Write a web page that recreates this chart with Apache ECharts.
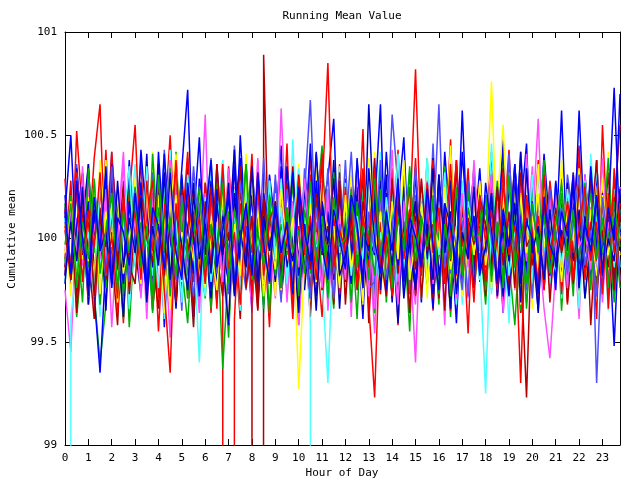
<!DOCTYPE html>
<html>
<head>
<meta charset="utf-8">
<title>Running Mean Value</title>
<script src="https://cdn.jsdelivr.net/npm/echarts@6/dist/echarts.min.js"></script>
<style>
  html, body { margin: 0; padding: 0; background: #fff; }
  #chart { width: 640px; height: 480px; }
</style>
</head>
<body>
<div id="chart"></div>
<script>
// samples every 15 minutes, 0:00 .. 23:45
const hours = [];
for (let i = 0; i < 96; i++) hours.push(i / 4);

const yMin = 99, yMax = 101, yStep = 0.5;
const xMax = 23.75;

// one array per run, 8 rows of 12 = 96 samples (3 hours per row)
const run00 = [
  100.29, 99.78, 100.52, 100.11, 99.68, 100.21, 99.9, 100.43, 99.83, 100.03, 99.59, 100.27,
  99.94, 100.38, 99.75, 100.15, 99.55, 100.07, 100.5, 99.87, 100.2, 99.71, 100.32, 99.82,
  100.13, 99.64, 100.25, 99.76, 0, 99.61, 100.17, 99.93, 100.41, 99.73, 100.08, 99.57,
  100.24, 99.89, 100.46, 99.69, 100.06, 99.8, 100.31, 99.96, 99.62, 100.21, 99.85, 100.36,
  99.73, 100.1, 99.92, 100.53, 99.66, 100.18, 99.79, 100.01, 100.34, 99.58, 100.14, 99.86,
  100.39, 99.76, 100.07, 99.65, 100.27, 99.97, 100.48, 99.72, 100.11, 99.54, 100.22, 99.9,
  100.04, 100.42, 99.71, 100.15, 99.83, 100.29, 99.64, 100.08, 99.93, 100.38, 99.75, 100.2,
  99.87, 100.25, 99.68, 100.13, 100.45, 99.8, 100.06, 99.61, 100.55, 99.92, 100.28, 99.79
];
const run01 = [
  99.83, 100.17, 99.62, 99.93, 100.36, 99.73, 99.4, 99.68, 100.11, 99.89, 100.25, 99.57,
  100.06, 99.8, 100.29, 99.65, 99.97, 100.21, 99.76, 100.42, 99.86, 99.59, 100.08, 99.92,
  99.71, 100.24, 99.82, 100.03, 99.52, 100.15, 99.9, 100.34, 99.72, 99.96, 100.13, 99.64,
  100.28, 99.79, 99.99, 100.18, 99.58, 100.1, 99.85, 100.38, 99.75, 100.01, 99.66, 100.22,
  99.87, 100.07, 99.61, 100.27, 99.78, 99.94, 100.32, 99.69, 100.14, 99.82, 100.04, 99.55,
  100.2, 99.9, 100.39, 99.72, 99.93, 100.11, 99.62, 100.24, 99.86, 100.31, 99.76, 100.0,
  99.68, 100.17, 99.8, 100.35, 99.89, 99.58, 100.08, 99.96, 100.27, 99.73, 100.06, 99.83,
  100.21, 99.65, 100.13, 99.92, 100.29, 99.71, 100.03, 99.79, 100.18, 99.86, 100.1, 99.76
];
const run02 = [
  100.13, 100.5, 99.89, 100.32, 99.72, 100.2, 99.97, 99.79, 100.39, 100.04, 99.64, 100.24,
  99.87, 100.43, 100.07, 99.76, 100.28, 99.57, 100.14, 99.94, 100.34, 100.72, 99.83, 100.18,
  100.01, 99.68, 100.36, 99.92, 100.21, 99.75, 100.5, 99.99, 99.66, 100.15, 99.86, 100.31,
  100.06, 100.45, 99.73, 100.1, 99.9, 100.27, 99.65, 100.41, 100.0, 99.8, 100.2, 99.96,
  100.29, 99.78, 100.08, 99.61, 100.35, 100.03, 99.85, 100.22, 99.71, 100.17, 100.49, 99.82,
  100.11, 99.69, 100.25, 99.93, 99.79, 100.42, 100.04, 99.59, 100.18, 99.87, 100.32, 99.97,
  99.75, 100.21, 100.06, 99.64, 100.38, 99.89, 100.13, 100.46, 99.76, 100.01, 99.83, 100.27,
  99.94, 100.62, 99.86, 100.17, 99.68, 100.31, 100.0, 99.79, 100.24, 100.07, 99.48, 100.14
];
const run03 = [
  99.75, 99.45, 100.1, 99.87, 100.27, 99.66, 99.97, 100.17, 99.57, 100.04, 99.82, 100.34,
  99.9, 100.14, 99.61, 100.22, 99.78, 100.01, 99.52, 100.29, 99.86, 100.07, 99.69, 99.96,
  100.6, 99.72, 100.18, 99.83, 99.59, 100.25, 99.93, 100.08, 99.64, 100.38, 99.8, 100.0,
  99.71, 100.2, 99.89, 100.32, 99.58, 99.99, 100.13, 99.76, 100.28, 99.65, 100.06, 99.85,
  100.15, 99.62, 100.36, 99.79, 100.03, 99.54, 100.21, 99.92, 100.11, 99.73, 100.24, 99.86,
  99.68, 100.28, 99.94, 99.78, 100.17, 99.58, 100.35, 99.83, 100.04, 99.71, 100.2, 99.9,
  100.08, 99.75, 100.25, 99.64, 99.97, 100.14, 99.8, 100.41, 99.87, 100.0, 99.66, 99.42,
  99.85, 100.22, 99.73, 100.06, 99.61, 100.31, 99.93, 100.13, 99.69, 100.18, 99.82, 100.03
];
const run04 = [
  0, 99.62, 99.87, 100.25, 99.78, 100.1, 99.62, 100.31, 99.94, 100.15, 99.72, 100.04,
  100.36, 99.82, 100.13, 99.65, 100.21, 99.9, 100.43, 99.75, 100.0, 100.27, 99.58, 100.18,
  99.86, 100.34, 99.69, 100.07, 99.93, 100.24, 99.73, 100.39, 99.83, 100.08, 99.64, 100.28,
  99.96, 100.17, 99.79, 100.48, 99.71, 100.11, 99.89, 100.22, 99.8, 99.3, 100.03, 100.35,
  99.76, 100.14, 99.92, 100.29, 99.66, 100.06, 100.42, 99.85, 100.2, 99.61, 100.1, 99.87,
  100.25, 99.79, 100.38, 99.96, 99.72, 100.17, 99.9, 100.32, 99.68, 100.13, 99.99, 100.21,
  99.82, 100.46, 99.92, 100.08, 99.59, 100.28, 99.86, 100.15, 99.78, 100.34, 99.94, 100.01,
  100.18, 99.71, 100.07, 99.89, 100.27, 99.76, 100.41, 99.97, 100.11, 99.65, 100.24, 99.86
];
const run05 = [
  100.13, 99.8, 100.29, 99.93, 100.2, 99.69, 100.04, 100.38, 99.85, 100.17, 99.64, 100.0,
  99.89, 100.25, 99.76, 100.42, 99.96, 100.1, 99.66, 100.21, 99.86, 100.34, 99.79, 100.07,
  100.28, 99.73, 100.15, 99.92, 99.59, 100.22, 99.97, 100.41, 99.78, 100.06, 99.87, 100.27,
  99.72, 100.18, 99.9, 100.31, 99.82, 100.01, 99.65, 100.35, 99.94, 100.14, 99.75, 100.08,
  100.24, 99.86, 100.04, 99.68, 100.39, 99.99, 100.17, 99.79, 100.28, 99.62, 100.11, 99.92,
  100.2, 99.71, 100.34, 99.83, 100.07, 99.94, 100.45, 99.76, 100.14, 99.89, 100.25, 99.8,
  100.03, 100.76, 99.93, 100.29, 99.72, 100.13, 99.85, 100.21, 99.66, 100.36, 99.96, 100.06,
  99.78, 100.15, 99.9, 100.32, 99.69, 100.1, 99.99, 100.24, 99.82, 100.42, 99.73, 100.08
];
const run06 = [
  99.82, 100.18, 99.64, 100.03, 99.87, 100.28, 99.71, 100.08, 99.93, 99.58, 100.22, 99.83,
  100.06, 99.76, 100.32, 99.89, 99.66, 100.14, 99.96, 100.38, 99.73, 100.0, 99.57, 100.2,
  99.86, 100.1, 99.69, 100.25, 99.8, 100.01, 99.61, 100.29, 99.9, 0, 100.89, 99.78,
  100.17, 99.72, 99.97, 100.35, 99.85, 100.07, 99.62, 100.21, 99.92, 100.13, 99.68, 100.27,
  99.79, 100.04, 99.94, 100.31, 99.59, 100.15, 99.83, 100.0, 100.24, 99.75, 100.11, 99.9,
  100.34, 99.71, 100.08, 99.86, 100.2, 99.65, 100.28, 99.96, 99.78, 100.17, 99.89, 100.04,
  99.72, 100.25, 99.82, 100.13, 99.99, 100.36, 99.64, 100.06, 99.87, 100.21, 99.76, 100.14,
  99.93, 100.29, 99.69, 100.03, 99.85, 100.22, 99.58, 100.1, 99.97, 100.32, 99.8, 100.17
];
const run07 = [
  100.15, 99.83, 100.36, 99.99, 99.73, 100.24, 100.04, 99.89, 100.42, 99.79, 100.11, 100.29,
  99.92, 100.18, 99.71, 100.32, 100.01, 99.82, 100.21, 100.08, 99.65, 100.39, 99.96, 99.86,
  100.27, 100.06, 99.76, 100.14, 99.87, 100.45, 99.94, 99.75, 100.31, 100.1, 99.8, 100.2,
  100.0, 99.69, 100.35, 100.07, 99.85, 100.22, 100.67, 99.97, 99.78, 100.17, 100.04, 99.9,
  100.38, 99.79, 100.13, 99.93, 100.28, 99.72, 100.2, 100.03, 99.83, 100.34, 99.99, 99.73,
  100.21, 100.08, 99.86, 100.46, 99.8, 100.01, 100.25, 99.68, 100.15, 99.96, 100.35, 99.89,
  100.06, 100.31, 99.76, 100.11, 99.94, 99.85, 100.42, 100.0, 99.71, 100.18, 100.07, 99.82,
  100.27, 99.97, 99.79, 100.21, 100.1, 99.75, 100.32, 99.3, 100.01, 100.14, 99.87, 100.24
];
const run08 = [
  99.86, 100.24, 99.73, 100.07, 100.36, 99.83, 100.14, 99.65, 100.29, 99.94, 100.04, 99.78,
  100.18, 99.89, 100.41, 99.71, 100.1, 99.96, 100.25, 99.8, 100.0, 100.34, 99.62, 100.15,
  99.92, 100.28, 99.79, 100.11, 99.99, 100.43, 99.72, 100.2, 99.87, 100.06, 99.68, 100.27,
  100.03, 99.82, 100.35, 99.93, 100.17, 99.75, 100.08, 99.97, 100.38, 99.85, 100.21, 99.66,
  100.13, 99.9, 100.25, 99.76, 100.65, 100.01, 99.86, 100.31, 99.69, 100.18, 99.94, 100.07,
  99.73, 100.22, 99.92, 100.39, 99.82, 100.1, 100.28, 99.71, 100.14, 99.96, 100.34, 99.79,
  100.2, 99.86, 100.04, 99.72, 100.27, 99.93, 100.42, 99.83, 100.11, 99.64, 100.24, 100.0,
  99.8, 100.17, 99.96, 100.32, 99.75, 100.08, 99.9, 100.38, 99.85, 100.15, 99.72, 100.06
];
const run09 = [
  99.9, 100.28, 99.72, 100.1, 99.96, 100.39, 100.65, 99.8, 100.15, 99.64, 100.06, 99.86,
  100.22, 99.75, 100.35, 99.93, 100.13, 99.69, 100.27, 99.83, 100.03, 100.42, 99.79, 100.18,
  99.97, 100.11, 99.66, 100.31, 99.87, 100.2, 99.76, 100.01, 100.36, 99.71, 100.14, 99.92,
  100.28, 99.82, 100.07, 99.61, 100.24, 99.94, 100.41, 99.78, 100.1, 99.89, 100.32, 99.73,
  100.04, 100.21, 99.85, 100.15, 99.68, 99.23, 100.08, 99.93, 100.29, 99.8, 100.0, 100.25,
  99.72, 100.14, 99.9, 100.38, 99.83, 100.06, 99.65, 100.22, 99.96, 100.34, 99.76, 100.11,
  99.94, 100.27, 99.79, 100.03, 100.43, 99.86, 100.17, 99.69, 100.07, 99.92, 100.31, 99.82,
  100.2, 99.73, 100.13, 99.97, 100.35, 99.78, 100.04, 99.89, 100.24, 99.66, 100.14, 100.55
];
const run10 = [
  100.17, 99.85, 100.04, 99.69, 100.34, 99.93, 100.11, 99.76, 100.24, 100.0, 99.61, 100.28,
  99.87, 100.08, 99.78, 100.41, 99.96, 100.18, 99.72, 100.03, 100.29, 99.82, 100.14, 99.9,
  100.25, 99.66, 100.07, 99.37, 99.86, 100.21, 99.99, 100.36, 99.75, 100.1, 99.92, 100.15,
  99.8, 100.32, 99.94, 100.06, 99.71, 100.27, 99.83, 100.13, 100.45, 99.79, 100.01, 99.89,
  100.2, 99.73, 100.38, 99.93, 100.08, 99.64, 100.22, 99.97, 100.14, 99.85, 100.31, 99.76,
  100.0, 100.25, 99.82, 100.13, 99.68, 100.35, 99.9, 100.06, 99.79, 100.28, 99.94, 100.17,
  99.75, 100.1, 99.99, 100.42, 99.83, 100.18, 99.65, 100.03, 100.27, 99.86, 100.11, 99.92,
  100.22, 99.8, 100.07, 99.72, 100.34, 99.96, 100.15, 99.78, 100.01, 100.39, 99.89, 100.08
];
const run11 = [
  100.11, 99.79, 100.34, 99.94, 100.18, 99.72, 99.35, 99.89, 100.27, 100.06, 99.83, 100.38,
  99.92, 100.22, 100.01, 99.76, 100.42, 99.97, 100.14, 99.68, 100.31, 99.86, 100.08, 100.49,
  99.82, 100.17, 99.93, 100.28, 99.75, 100.1, 100.39, 99.9, 100.21, 99.71, 100.04, 100.25,
  99.87, 100.35, 100.07, 99.8, 100.2, 99.96, 100.46, 99.83, 100.13, 100.29, 100.58, 99.78,
  100.15, 99.93, 100.36, 100.03, 99.73, 100.24, 99.86, 100.42, 100.0, 99.8, 100.18, 99.96,
  100.31, 99.85, 100.11, 99.66, 100.27, 100.06, 99.9, 100.38, 99.79, 100.14, 100.01, 100.34,
  99.86, 100.21, 99.97, 100.48, 99.82, 100.08, 100.28, 99.76, 100.17, 99.93, 100.41, 100.04,
  99.75, 100.25, 100.1, 99.89, 100.62, 100.0, 99.8, 100.32, 99.92, 100.15, 99.72, 100.22
];
const run12 = [
  99.94, 100.2, 99.73, 100.35, 99.89, 100.08, 99.68, 100.27, 99.85, 100.04, 100.42, 99.79,
  100.14, 99.9, 100.28, 99.71, 100.1, 99.97, 100.38, 99.78, 100.17, 99.86, 100.01, 99.64,
  100.22, 99.83, 100.07, 100.32, 99.76, 100.13, 99.93, 100.25, 99.72, 100.39, 99.87, 100.06,
  99.8, 100.63, 99.96, 100.18, 99.69, 100.29, 99.86, 100.08, 99.99, 100.24, 99.75, 100.15,
  100.03, 99.82, 100.34, 99.92, 100.11, 99.66, 100.21, 99.89, 100.43, 99.79, 100.07, 99.96,
  99.4, 100.17, 99.85, 100.28, 99.93, 100.04, 99.72, 100.36, 99.87, 100.13, 99.78, 100.2,
  99.97, 100.31, 99.71, 100.1, 99.9, 100.25, 99.8, 100.0, 100.35, 99.83, 100.14, 99.75,
  100.21, 99.86, 100.06, 99.94, 100.27, 99.76, 100.15, 99.92, 100.39, 99.82, 100.08, 99.99
];
const run13 = [
  99.79, 100.14, 99.9, 100.27, 99.69, 100.06, 99.86, 100.31, 99.76, 100.0, 100.2, 99.66,
  100.08, 99.87, 100.35, 99.82, 100.13, 99.61, 100.22, 99.94, 100.04, 99.75, 100.28, 99.92,
  99.72, 100.18, 99.97, 100.38, 99.8, 100.07, 99.65, 100.25, 99.89, 100.11, 99.78, 100.15,
  99.93, 100.29, 99.73, 100.01, 99.85, 100.21, 99.58, 0, null, 99.9, 100.17, 99.82,
  100.27, 99.71, 100.1, 99.96, 100.34, 99.79, 100.03, 99.87, 100.24, 99.64, 100.14, 99.83,
  100.06, 99.93, 100.39, 99.76, 100.18, 99.86, 100.08, 99.68, 100.28, 99.97, 100.01, 99.8,
  100.21, 99.73, 100.13, 99.92, 100.32, 99.83, 100.04, 99.71, 100.17, 99.94, 100.36, 99.78,
  99.89, 100.24, 99.82, 100.07, 99.66, 100.28, 99.96, 100.11, 99.79, 100.2, 99.86, 100.03
];
const run14 = [
  100.07, 99.72, 100.25, 99.9, 100.13, 99.8, 100.38, 99.96, 100.17, 99.69, 100.03, 99.87,
  100.29, 99.83, 100.08, 99.93, 100.21, 99.64, 100.14, 100.41, 99.79, 100.04, 99.89, 100.24,
  99.76, 100.11, 99.94, 100.34, 99.85, 100.18, 99.71, 100.01, 100.28, 99.82, 100.15, 99.92,
  100.22, 99.75, 100.06, 99.86, 100.36, 99.97, 100.1, 99.66, 100.27, 99.9, 100.13, 99.78,
  100.0, 100.31, 99.82, 100.17, 99.93, 100.42, 99.73, 100.07, 99.89, 100.24, 99.8, 100.14,
  99.96, 100.2, 99.71, 100.32, 99.86, 100.04, 99.78, 100.25, 100.08, 99.83, 100.35, 99.93,
  100.11, 99.76, 100.18, 100.55, 99.87, 100.28, 99.68, 100.06, 99.97, 100.22, 99.79, 100.13,
  99.9, 100.38, 99.8, 100.01, 100.2, 99.72, 100.14, 99.94, 100.29, 99.85, 100.1, 99.92
];
const run15 = [
  99.86, 100.1, 99.71, 100.22, 99.93, 99.61, 100.15, 99.8, 100.03, 99.9, 100.28, 99.73,
  100.06, 99.83, 100.18, 99.66, 99.99, 100.31, 99.78, 100.08, 99.87, 100.21, 99.62, 100.01,
  99.82, 100.25, 99.92, 99.72, 100.13, 99.96, 100.35, 99.76, 100.0, 99.65, 100.17, 99.86,
  100.11, 99.79, 100.27, 99.94, 99.69, 100.07, 99.85, 100.2, 99.75, 100.04, 99.89, 100.32,
  99.68, 100.14, 99.9, 100.01, 99.78, 100.24, 99.93, 99.72, 100.29, 99.83, 100.08, 99.64,
  100.18, 99.87, 100.03, 99.71, 100.28, 99.8, 100.1, 99.96, 99.76, 100.21, 99.86, 100.06,
  99.79, 100.15, 99.92, 100.34, 99.73, 100.0, 99.89, 99.23, 100.13, 99.82, 100.22, 99.69,
  100.07, 99.9, 100.27, 99.78, 100.11, 99.94, 100.31, 99.72, 100.04, 99.86, 100.2, 99.8
];
const run16 = [
  100.11, 99.87, 100.32, 99.96, 99.78, 100.21, 100.03, 99.83, 100.38, 100.07, 99.72, 100.17,
  99.99, 100.28, 99.8, 100.13, 99.93, 100.43, 99.76, 100.06, 100.22, 99.89, 100.35, 100.01,
  99.79, 100.2, 99.97, 100.31, 99.73, 100.1, 99.92, 100.27, 100.04, 99.85, 100.39, 99.94,
  100.15, 99.82, 100.24, 100.0, 99.75, 100.34, 100.08, 99.9, 100.18, 99.96, 99.71, 100.29,
  100.03, 100.42, 99.86, 100.11, 99.76, 99.79, 100.21, 99.99, 100.6, 100.25, 100.07, 99.87,
  100.35, 99.93, 100.14, 99.78, 100.27, 100.01, 99.83, 100.2, 100.08, 99.72, 100.32, 99.97,
  99.89, 100.22, 100.04, 99.8, 100.41, 99.96, 100.15, 99.75, 100.28, 100.0, 99.85, 100.18,
  100.06, 99.82, 100.31, 100.1, 99.9, 100.21, 99.99, 100.36, 99.79, 100.13, 99.94, 100.25
];
const run17 = [
  99.78, 100.13, 99.89, 100.24, 99.68, 100.04, 99.93, 100.29, 99.8, 100.0, 99.62, 100.17,
  99.96, 99.73, 100.2, 99.86, 100.36, 99.76, 100.07, 99.66, 100.15, 99.92, 100.27, 99.82,
  100.03, 99.71, 100.14, 99.9, 99.58, 100.22, 99.83, 100.06, 99.75, 100.32, 99.93, 100.1,
  99.79, 100.18, 99.86, 100.01, 99.64, 100.25, 99.94, 99.72, 100.13, 99.89, 100.38, 99.76,
  100.08, 99.85, 100.21, 99.69, 100.0, 99.92, 100.28, 99.8, 100.04, 99.59, 100.17, 99.96,
  99.75, 100.11, 99.9, 100.34, 99.82, 100.01, 99.66, 100.2, 99.86, 100.07, 99.79, 100.24,
  99.93, 100.15, 99.72, 100.03, 99.87, 100.31, 99.78, 100.1, 99.97, 99.65, 100.21, 99.85,
  100.06, 99.8, 100.27, 99.9, 100.14, 99.71, 100.0, 99.83, 100.22, 99.76, 100.08, 99.94
];
const run18 = [
  100.14, 99.82, 100.32, 99.97, 100.08, 99.75, 100.24, 99.92, 100.42, 100.01, 99.79, 100.2,
  100.55, 99.87, 100.11, 100.28, 99.71, 100.17, 99.94, 100.38, 99.83, 100.06, 100.22, 99.76,
  100.27, 99.96, 100.07, 99.8, 100.35, 100.0, 99.86, 100.18, 99.72, 100.31, 99.93, 100.13,
  99.85, 100.21, 100.04, 99.68, 100.29, 99.9, 100.15, 99.99, 100.41, 99.78, 100.1, 99.89,
  100.25, 99.8, 100.0, 100.34, 99.86, 100.13, 99.73, 100.2, 99.96, 100.43, 99.83, 100.07,
  100.82, 99.92, 100.22, 99.76, 100.1, 99.97, 100.36, 99.82, 100.17, 99.89, 100.03, 100.27,
  99.79, 100.14, 99.94, 100.32, 99.85, 100.06, 99.3, 100.21, 99.9, 100.11, 99.75, 100.28,
  100.01, 99.86, 100.24, 99.93, 100.39, 99.8, 100.08, 99.96, 100.18, 99.72, 100.34, 99.99
];
const run19 = [
  99.89, 100.21, 99.76, 100.06, 99.86, 100.29, 99.68, 100.11, 99.94, 100.17, 99.73, 100.0,
  100.25, 99.8, 100.03, 99.64, 100.15, 99.93, 100.34, 99.83, 100.08, 99.71, 100.2, 99.9,
  100.04, 99.75, 100.27, 99.96, 100.13, 99.79, 100.01, 100.36, 99.87, 100.1, 99.66, 100.18,
  99.82, 100.07, 99.92, 100.28, 99.72, 100.14, 99.97, 100.22, 99.78, 100.0, 100.32, 99.86,
  100.11, 99.69, 100.18, 99.9, 100.04, 99.82, 100.24, 99.93, 99.73, 100.15, 99.96, 100.35,
  99.85, 100.08, 99.78, 100.21, 99.99, 100.31, 99.72, 100.06, 99.89, 100.25, 99.8, 100.01,
  100.14, 99.92, 100.28, 99.76, 100.07, 99.86, 100.2, 99.66, 100.13, 99.96, 100.38, 99.83,
  100.0, 100.22, 99.79, 100.1, 99.9, 100.27, 99.75, 100.17, 99.93, 100.04, 99.69, 100.14
];
const run20 = [
  100.21, 99.8, 100.06, 100.31, 99.73, 100.11, 99.96, 99.85, 100.36, 100.01, 99.78, 100.18,
  99.93, 100.27, 99.76, 100.08, 99.87, 100.41, 100.0, 99.69, 100.2, 100.04, 99.83, 100.29,
  100.1, 99.75, 100.24, 99.94, 99.79, 100.35, 99.89, 100.14, 99.99, 99.72, 100.22, 100.03,
  99.86, 100.17, 99.97, 100.32, 99.82, 100.07, 99.71, 100.28, 99.93, 100.13, 99.8, 100.21,
  100.01, 99.78, 100.39, 99.96, 99.9, 100.15, 100.65, 99.75, 100.08, 99.87, 100.25, 99.99,
  99.79, 100.2, 100.04, 99.73, 100.31, 99.94, 100.13, 99.83, 100.42, 100.0, 99.76, 100.17,
  100.07, 99.89, 100.24, 99.97, 99.72, 100.34, 100.06, 99.85, 100.18, 99.93, 100.1, 99.82,
  100.28, 99.99, 99.79, 100.15, 100.03, 99.86, 100.35, 99.96, 99.75, 100.11, 100.73, 100.01
];
const run21 = [
  99.83, 100.15, 99.93, 100.31, 99.72, 100.07, 99.9, 100.24, 99.78, 100.0, 100.36, 99.86,
  100.11, 99.71, 100.2, 99.94, 100.04, 99.82, 100.28, 99.75, 100.14, 99.92, 100.01, 99.66,
  100.22, 99.87, 100.08, 99.79, 100.34, 99.97, 99.73, 100.17, 99.89, 100.27, 99.8, 100.06,
  99.96, 100.18, 99.69, 100.13, 99.86, 100.29, 99.93, 100.03, 99.76, 100.21, 99.9, 100.1,
  99.8, 100.25, 99.92, 100.06, 99.72, 100.35, 99.87, 100.14, 99.97, 99.68, 100.18, 99.85,
  100.08, 99.93, 100.28, 99.78, 100.15, 99.9, 100.04, 99.71, 100.22, 99.86, 100.38, 99.94,
  100.01, 99.82, 100.17, 99.94, 100.11, 99.75, 100.27, 99.89, 100.07, 100.58, 99.83, 100.2,
  99.92, 100.13, 99.76, 100.31, 99.96, 100.03, 99.85, 100.21, 99.72, 100.08, 99.93, 100.25
];
const run22 = [
  100.1, 99.85, 100.22, 99.93, 100.03, 99.72, 100.29, 99.89, 100.14, 99.8, 100.06, 100.35,
  99.86, 100.18, 99.96, 100.07, 99.76, 100.27, 99.92, 100.11, 99.69, 100.31, 99.99, 99.4,
  100.2, 99.79, 100.04, 100.38, 99.87, 100.13, 99.73, 100.24, 99.94, 100.01, 99.83, 100.28,
  99.9, 100.15, 99.78, 100.08, 100.34, 99.86, 100.21, 99.96, 100.0, 99.71, 100.25, 99.93,
  100.17, 99.82, 100.11, 99.9, 100.28, 100.03, 99.75, 100.2, 99.94, 100.41, 99.85, 100.07,
  99.97, 100.22, 99.8, 100.14, 99.92, 100.32, 99.86, 100.06, 99.72, 100.18, 100.0, 99.87,
  99.25, 100.1, 99.89, 100.27, 99.82, 100.04, 100.2, 99.93, 100.31, 99.78, 100.08, 99.96,
  100.15, 99.86, 100.24, 100.01, 99.79, 100.11, 99.94, 100.36, 99.85, 100.17, 99.9, 100.06
];
const run23 = [
  99.93, 100.18, 99.8, 100.06, 99.89, 100.28, 99.73, 100.13, 99.96, 100.21, 99.83, 100.01,
  100.14, 99.78, 100.25, 99.9, 100.08, 99.71, 100.32, 99.86, 100.03, 99.94, 100.2, 99.79,
  100.11, 99.96, 99.75, 100.22, 99.87, 100.07, 99.82, 100.29, 99.92, 100.15, 99.72, 100.04,
  99.85, 100.24, 99.94, 100.1, 99.27, 99.89, 100.17, 99.79, 100.27, 99.97, 100.06, 99.76,
  100.21, 99.86, 100.03, 99.69, 100.31, 99.93, 100.13, 99.82, 100.18, 99.9, 100.38, 99.8,
  100.0, 100.17, 99.78, 100.08, 99.96, 100.25, 99.85, 100.04, 99.72, 100.14, 99.92, 100.28,
  99.87, 100.07, 99.83, 100.2, 100.01, 99.76, 100.22, 99.93, 100.11, 99.86, 100.27, 99.94,
  100.1, 99.79, 100.15, 99.99, 100.34, 99.89, 100.04, 99.82, 100.21, 99.92, 100.13, 100.0
];
const run24 = [
  100.04, 99.8, 100.27, 99.92, 100.14, 99.72, 100.1, 99.96, 100.34, 99.85, 100.17, 99.87,
  99.78, 100.21, 100.0, 99.89, 100.29, 99.82, 100.07, 99.69, 100.24, 99.93, 100.13, 99.76,
  100.18, 99.86, 100.36, 99.94, 100.03, 99.73, 100.25, 99.9, 100.11, 99.66, 100.2, 99.97,
  100.08, 99.83, 100.15, 99.79, 100.31, 99.99, 99.72, 100.22, 99.92, 100.06, 99.82, 100.28,
  99.9, 100.11, 99.75, 100.18, 99.96, 100.39, 99.86, 100.01, 99.8, 100.24, 99.93, 100.14,
  99.85, 100.29, 99.94, 100.07, 99.71, 100.17, 99.89, 100.35, 99.78, 100.1, 99.97, 100.21,
  100.06, 99.82, 100.25, 99.87, 100.13, 99.76, 100.32, 99.96, 100.03, 99.72, 100.2, 99.9,
  100.15, 99.93, 100.08, 99.79, 100.27, 99.86, 100.04, 100.38, 99.83, 100.17, 99.75, 100.11
];
const run25 = [
  100.08, 99.85, 100.29, 99.97, 99.76, 100.18, 100.03, 99.82, 100.35, 99.94, 100.14, 99.79,
  100.24, 100.0, 99.73, 100.11, 99.89, 100.32, 100.06, 99.8, 100.21, 99.93, 99.72, 100.17,
  100.01, 100.39, 99.83, 100.07, 99.96, 99.75, 100.27, 100.04, 99.86, 100.2, 99.99, 99.78,
  100.31, 99.9, 100.1, 99.79, 100.22, 100.0, 99.71, 100.15, 99.94, 100.34, 99.83, 100.07,
  99.87, 100.21, 100.03, 99.76, 100.13, 99.93, 100.38, 99.8, 100.06, 100.25, 99.73, 100.1,
  99.97, 99.82, 100.18, 100.01, 100.65, 99.86, 100.11, 99.96, 99.75, 100.28, 100.04, 99.89,
  100.21, 99.99, 99.78, 100.14, 99.92, 100.35, 100.01, 99.79, 100.17, 99.94, 99.85, 100.24,
  100.0, 100.15, 99.83, 100.07, 100.31, 99.87, 100.04, 99.72, 100.2, 99.97, 100.1, 99.8
];
const run26 = [
  99.82, 100.08, 99.9, 100.25, 99.72, 100.14, 99.94, 100.03, 99.78, 100.28, 99.86, 100.1,
  99.93, 100.2, 99.69, 100.06, 99.87, 100.32, 99.8, 100.13, 99.96, 99.75, 100.22, 99.9,
  100.07, 99.83, 100.17, 99.92, 100.27, 99.72, 100.04, 99.86, 100.35, 99.79, 100.11, 99.94,
  100.14, 99.76, 100.0, 99.89, 100.24, 99.85, 100.08, 99.65, 100.18, 99.97, 100.29, 99.82,
  99.92, 100.15, 99.79, 100.04, 99.94, 100.28, 99.75, 100.11, 99.87, 100.21, 99.71, 100.01,
  100.18, 99.86, 100.07, 99.8, 100.31, 99.93, 100.13, 99.73, 100.03, 99.9, 100.25, 99.83,
  99.96, 100.22, 99.78, 100.1, 99.89, 100.17, 99.69, 100.34, 99.93, 100.06, 99.8, 100.14,
  99.86, 100.04, 99.94, 100.27, 99.76, 100.11, 99.92, 100.2, 99.82, 100.0, 99.89, 100.24
];
const run27 = [
  100.06, 99.87, 100.24, 99.79, 100.13, 99.96, 100.32, 99.83, 100.01, 99.71, 100.2, 99.92,
  100.14, 99.8, 100.28, 99.94, 100.07, 99.75, 99.35, 100.17, 99.86, 100.25, 99.97, 100.1,
  99.78, 100.21, 99.9, 100.36, 99.85, 100.03, 99.68, 100.15, 99.93, 100.27, 99.82, 100.08,
  100.18, 99.89, 100.0, 99.73, 100.29, 99.92, 100.11, 99.8, 100.22, 100.85, 99.86, 100.04,
  99.94, 100.17, 99.76, 100.1, 99.97, 100.34, 99.83, 100.01, 99.72, 100.24, 99.9, 100.14,
  100.07, 99.82, 100.27, 99.93, 100.15, 99.78, 100.03, 100.38, 99.87, 100.08, 99.69, 100.2,
  99.99, 100.13, 99.75, 100.28, 99.92, 100.06, 99.85, 100.21, 100.0, 99.79, 100.31, 99.9,
  100.11, 99.96, 100.18, 99.8, 100.04, 100.25, 99.89, 100.08, 99.73, 100.22, 99.93, 100.17
];
const run28 = [
  99.97, 100.17, 99.79, 100.08, 99.9, 100.28, 99.83, 100.04, 100.22, 99.75, 100.13, 99.93,
  100.2, 99.86, 100.06, 99.72, 100.31, 99.94, 100.1, 99.82, 100.18, 99.9, 100.01, 100.25,
  99.85, 100.07, 99.92, 100.27, 99.78, 100.14, 99.96, 100.35, 99.8, 100.03, 99.87, 100.21,
  100.08, 99.76, 100.15, 99.93, 100.04, 99.83, 100.28, 99.89, 100.11, 99.71, 100.2, 99.96,
  100.0, 100.24, 99.86, 100.06, 99.8, 100.29, 99.92, 100.14, 99.76, 100.1, 99.94, 100.32,
  99.89, 100.11, 99.96, 100.18, 99.73, 100.07, 99.9, 100.25, 99.82, 100.15, 99.99, 100.03,
  100.21, 99.79, 100.08, 99.93, 100.31, 99.86, 100.04, 99.78, 100.17, 99.94, 100.11, 99.83,
  100.06, 100.27, 99.89, 100.14, 99.82, 100.01, 100.22, 99.9, 100.1, 99.76, 100.18, 99.96
];
const run29 = [
  100.13, 99.83, 100.28, 100.0, 99.79, 100.2, 99.94, 100.35, 99.76, 100.1, 100.03, 99.87,
  100.22, 99.96, 99.75, 100.15, 100.06, 99.85, 100.32, 99.93, 99.8, 100.27, 100.01, 99.72,
  100.11, 100.38, 99.86, 100.04, 100.21, 99.78, 99.99, 100.17, 99.82, 100.31, 99.97, 99.79,
  100.18, 99.93, 100.08, 99.73, 100.25, 100.03, 99.89, 100.42, 99.96, 99.8, 100.14, 100.0,
  99.85, 100.21, 100.07, 99.76, 100.34, 99.99, 99.83, 100.13, 99.94, 100.29, 99.79, 100.1,
  100.01, 99.86, 100.24, 99.97, 99.75, 100.17, 100.06, 99.87, 100.62, 99.93, 100.11, 99.82,
  100.27, 100.04, 99.78, 100.14, 99.96, 100.36, 99.85, 100.08, 100.0, 99.73, 100.2, 99.97,
  99.89, 100.13, 100.01, 100.31, 99.79, 100.07, 99.94, 100.21, 99.83, 100.15, 99.99, 100.7
];

const runs = [
  run00, run01, run02, run03, run04, run05, run06, run07, run08, run09,
  run10, run11, run12, run13, run14, run15, run16, run17, run18, run19,
  run20, run21, run22, run23, run24, run25, run26, run27, run28, run29
];

// gnuplot style pen colours, cycled
const lineColors = ['#ff0000', '#00b000', '#0000ff', '#ff50ff', '#50ffff', '#ffff00', '#b00000', '#5050ff', '#0000c0'];

const chart = echarts.init(document.getElementById('chart'));
const font = 'DejaVu Sans Mono';

let series = runs.map((vals, k) => ({
    type: 'line',
    xAxisIndex: 0,
    yAxisIndex: 0,
    data: vals.map((v, i) => [hours[i], v]),
    symbol: 'none',
    showSymbol: false,
    clip: true,
    silent: true,
    animation: false,
    lineStyle: { color: lineColors[k % lineColors.length], width: 1.5 },
    itemStyle: { color: lineColors[k % lineColors.length] }
}))

const axisBase = {
    axisLine: { show: true, onZero: false, lineStyle: { color: '#000', width: 1 } },
    axisTick: { show: true, inside: true, length: 6, lineStyle: { color: '#000' } },
    splitLine: { show: false }
}

let options = {
    animation: false,
    backgroundColor: '#fff',
    grid: { left: 65, right: 20, top: 32, bottom: 35, outerBoundsMode: 'none', containLabel: false },
    xAxis: [
        Object.assign({}, axisBase, {
            type: 'value', position: 'bottom', min: 0, max: xMax, interval: 1,
            axisLabel: { show: true, margin: 8, showMaxLabel: false, color: '#000', fontFamily: font, fontSize: 11 }
        }),
        Object.assign({}, axisBase, {
            type: 'value', position: 'top', min: 0, max: xMax, interval: 1,
            axisLabel: { show: false }
        })
    ],
    yAxis: [
        Object.assign({}, axisBase, {
            type: 'value', position: 'left', min: yMin, max: yMax, interval: yStep,
            axisLabel: { show: true, margin: 8, color: '#000', fontFamily: font, fontSize: 11 }
        }),
        Object.assign({}, axisBase, {
            type: 'value', position: 'right', min: yMin, max: yMax, interval: yStep,
            axisLabel: { show: false }
        })
    ],
    graphic: [
        { type: 'text', x: 342, y: 16, style: { text: 'Running Mean Value', fill: '#000', font: '11px "DejaVu Sans Mono"', textAlign: 'center', textVerticalAlign: 'middle' } },
        { type: 'text', x: 342, y: 473, style: { text: 'Hour of Day', fill: '#000', font: '11px "DejaVu Sans Mono"', textAlign: 'center', textVerticalAlign: 'middle' } },
        { type: 'text', x: 12, y: 239, rotation: Math.PI / 2, style: { text: 'Cumulative mean', fill: '#000', font: '11px "DejaVu Sans Mono"', textAlign: 'center', textVerticalAlign: 'middle' } }
    ],
    series: series
}
options && chart.setOption(options)
</script>
</body>
</html>
